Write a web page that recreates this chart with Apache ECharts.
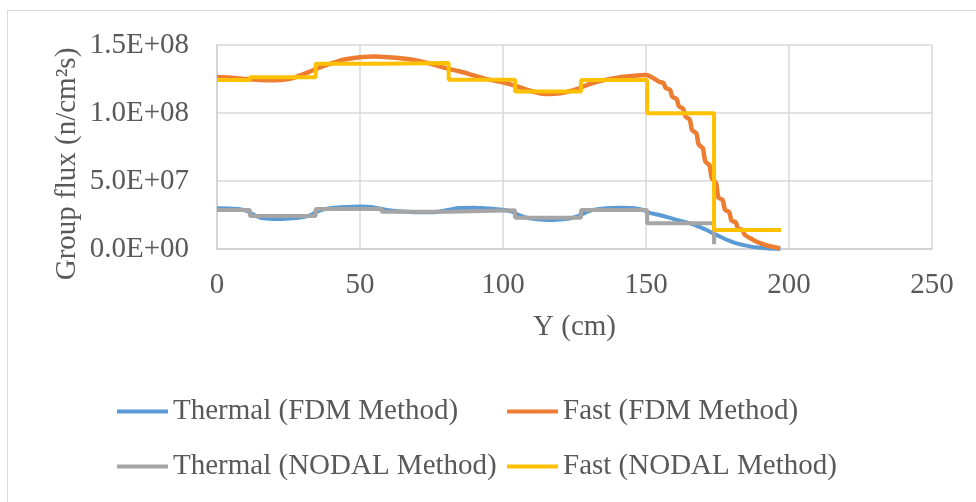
<!DOCTYPE html>
<html lang="en">

<head>
	<meta charset="UTF-8" />
	<script src="https://cdn.jsdelivr.net/npm/echarts@6/dist/echarts.min.js"></script>
	<title>Group flux</title>
	<style>
		html, body { margin: 0; padding: 0; background: #fff; }
		#main { width: 976px; height: 502px; }
	</style>
</head>

<body>
	<div id="main"></div>

	<script type="text/javascript">
		// values in units of 1E+06 n/cm2s, x in cm
		const thermalFdm = [
			[0, 29.9], [4, 29.8], [8, 29.3], [10.5, 28], [12.5, 25.5], [15, 23.2], [18.5, 22.2],
			[22, 22], [26.5, 22.6], [30, 23.5], [32.5, 24.8], [34.5, 27], [37, 29], [40, 30.2],
			[45, 30.9], [50, 31.2], [54, 30.9], [57, 29.8], [60, 28.5], [65, 27.5], [70, 27],
			[75, 27], [78, 27.6], [81, 28.8], [85, 30.2], [90, 30.3], [95, 29.8], [100, 28.8],
			[103, 27.5], [105, 25.5], [108, 23.2], [112, 21.8], [116, 21.3], [120, 21.7],
			[124, 22.8], [127, 25], [130, 27.8], [133, 29.3], [138, 30.2], [142, 30.4], [146, 30],
			[149, 28.8], [151, 26.8], [155, 24.8], [159.5, 22.2], [165.4, 18.9], [168, 16.8],
			[171.2, 14], [174, 11], [176, 9], [179, 6.2], [182, 4], [185, 2.5], [188, 1.3],
			[192, 0.5], [197, 0.1]
		];
		const fastFdm = [
			[0, 126.5], [5, 126], [10, 125], [15, 124.3], [20, 124], [25, 125], [28, 126.8],
			[32, 130], [36, 133.5], [40, 136.5], [45, 139.5], [50, 141], [55, 141.5], [60, 141],
			[65, 140], [70, 138.5], [75, 136], [80, 133], [85, 130.5], [90, 127.5], [95, 124.5],
			[100, 122.5], [105, 119.5], [110, 116], [115, 114], [120, 114.5], [125, 117],
			[130, 121], [135, 124], [140, 126], [145, 127.2], [150, 128], [152.3, 126],
			[154.6, 123], [156.1, 122], [156.9, 118.5], [158.4, 117], [159.2, 112], [160.7, 110.3],
			[161.5, 105], [163, 103], [163.8, 97.5], [165.3, 95], [166.1, 87.5], [167.6, 85],
			[168.4, 77], [169.9, 74], [170.7, 64.5], [172.2, 61.5], [173, 52], [174.5, 48.5],
			[175.3, 38], [176.8, 36], [177.6, 29], [179.1, 27], [179.9, 21], [181.4, 19.5],
			[182.2, 15], [183.7, 14], [184.5, 10.5], [186.8, 7.5], [189.1, 5], [191.4, 3.2],
			[193.7, 1.8], [196.9, 0.5]
		];
		// nodal results: value holds from this edge to the next one
		const thermalNodal = [
			[0, 28.7], [11.5, 24.3], [34.5, 29.4], [57.6, 27.4], [81, 28.5], [104.2, 23],
			[127.3, 28.7], [150.4, 18.9], [173.8, 3.5]
		];
		const fastNodal = [
			[0, 124.3], [11.5, 126.2], [34.5, 136.2], [57.6, 136.8], [81, 124.5], [104.2, 115.8],
			[127.3, 124.3], [150.4, 99.8], [173.8, 14], [197.2, 14]
		];
		const seriesNames = [
			'Thermal (FDM Method)', 'Fast (FDM Method)',
			'Thermal (NODAL Method)', 'Fast (NODAL Method)'
		];
		const colors = ['#5B9BD5', '#ED7D31', '#A5A5A5', '#FFC000'];

		const font = 'Liberation Serif, Times New Roman, serif';
		const textGray = '#595959';
		const toFlux = arr => arr.map(([x, y]) => [x, y * 1e6]);
		const sciLabel = v => {
			const [m, e] = v.toExponential(1).split('e');
			const n = Math.abs(Number(e));
			return m + 'E' + (e[0] === '-' ? '-' : '+') + (n < 10 ? '0' + n : n);
		};

		const legendAt = (name, left, top) => ({
			data: [name],
			left,
			top,
			padding: 0,
			icon: 'rect',
			itemWidth: 51,
			itemHeight: 4,
			selectedMode: false,
			textStyle: { fontFamily: font, fontSize: 29, color: textGray },
		});

		const mainChart = echarts.init(document.getElementById('main'));
		const option = {
			animation: false,
			color: colors,
			grid: { left: 217, right: 44, top: 45, bottom: 253 },
			legend: [
				legendAt(seriesNames[0], 117, 397),
				legendAt(seriesNames[1], 507, 397),
				legendAt(seriesNames[2], 117, 452),
				legendAt(seriesNames[3], 507, 452),
			],
			graphic: [
				{
					type: 'rect',
					shape: { x: 7.5, y: 10.5, width: 1000, height: 600 },
					style: { fill: 'none', stroke: '#d9d9d9', lineWidth: 1 },
					silent: true,
				},
				{
					type: 'text',
					x: 67,
					y: 164,
					rotation: Math.PI / 2,
					style: {
						text: 'Group flux (n/cm²s)',
						font: '29px ' + font,
						fill: textGray,
						align: 'center',
						verticalAlign: 'middle',
					},
				},
			],
			xAxis: {
				type: 'value',
				min: 0,
				max: 250,
				interval: 50,
				name: 'Y (cm)',
				nameLocation: 'middle',
				nameGap: 64,
				nameTextStyle: { fontFamily: font, fontSize: 29, color: textGray },
				axisLine: { show: true, lineStyle: { color: '#d0d0d0', width: 1.5 } },
				axisTick: { show: false },
				axisLabel: { margin: 22, fontFamily: font, fontSize: 29, color: textGray },
				splitLine: { show: true, lineStyle: { color: '#d9d9d9', width: 1.5 } },
			},
			yAxis: {
				type: 'value',
				min: 0,
				max: 1.5e8,
				interval: 5e7,
				axisLine: { show: true, lineStyle: { color: '#d0d0d0', width: 1.5 } },
				axisTick: { show: false },
				axisLabel: {
					margin: 28,
					fontFamily: font,
					fontSize: 29,
					color: textGray,
					formatter: sciLabel,
				},
				splitLine: { show: true, lineStyle: { color: '#d9d9d9', width: 1.5 } },
			},
			series: [
				{
					name: seriesNames[0],
					type: 'line',
					symbol: 'none',
					smooth: 0.3,
					lineStyle: { width: 4, color: colors[0] },
					data: toFlux(thermalFdm),
				},
				{
					name: seriesNames[1],
					type: 'line',
					symbol: 'none',
					smooth: 0.3,
					lineStyle: { width: 4.5, color: colors[1] },
					data: toFlux(fastFdm),
				},
				{
					name: seriesNames[2],
					type: 'line',
					symbol: 'none',
					step: 'end',
					lineStyle: { width: 4, color: colors[2] },
					data: toFlux(thermalNodal),
				},
				{
					name: seriesNames[3],
					type: 'line',
					symbol: 'none',
					step: 'end',
					lineStyle: { width: 4, color: colors[3] },
					data: toFlux(fastNodal),
				},
			],
		};
		mainChart.setOption(option);
	</script>
</body>

</html>
